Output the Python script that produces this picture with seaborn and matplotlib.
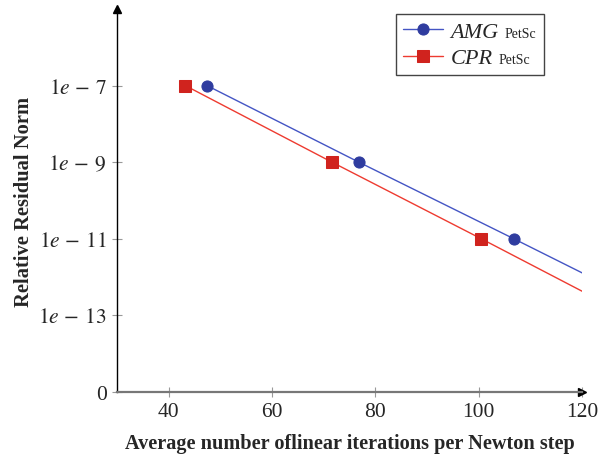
import matplotlib
matplotlib.use("Agg")
import matplotlib.pyplot as plt
from matplotlib.patches import Rectangle
import seaborn as sns
import pandas as pd

# data (last point of each series lies beyond x=120 and is clipped)
amg_iters = [47.4, 76.8, 106.8, 136.5]
cpr_iters = [43.2, 71.6, 100.5, 129.0]
residual_labels = ["0", "1e-13", "1e-11", "1e-9", "1e-7"]
amg_residual = ["1e-7", "1e-9", "1e-11", "1e-13"]
cpr_residual = ["1e-7", "1e-9", "1e-11", "1e-13"]
x_ticks = [40, 60, 80, 100, 120]

# y axis is drawn as equally spaced levels
pos = {lab: i for i, lab in enumerate(residual_labels)}

df = pd.DataFrame({
    "iters": amg_iters + cpr_iters,
    "level": [pos[v] for v in amg_residual] + [pos[v] for v in cpr_residual],
    "solver": ["AMG"] * len(amg_iters) + ["CPR"] * len(cpr_iters),
})

sns.set_style("white")
plt.rcParams["font.family"] = ["Liberation Serif", "DejaVu Serif"]
plt.rcParams["mathtext.fontset"] = "stix"

fig = plt.figure(figsize=(6.02, 4.56), dpi=100)
ax = fig.add_axes([0.1944, 0.1382, 0.7724, 0.8400])

line_col = {"AMG": "#4455c4", "CPR": "#ee3b30"}
face_col = {"AMG": "#2f3c9f", "CPR": "#d0231e"}
marker = {"AMG": "o", "CPR": "s"}

for s in ["AMG", "CPR"]:
    sub = df[df.solver == s]
    sns.lineplot(data=sub, x="iters", y="level", ax=ax, sort=False,
                 color=line_col[s], lw=1.0, marker=marker[s], markersize=8,
                 markerfacecolor=face_col[s], markeredgecolor=face_col[s],
                 label=s)

ax.set_xlim(30, 120)
ax.set_ylim(0, 5)
ax.set_xticks(x_ticks)
ax.set_xticklabels([str(t) for t in x_ticks])
ax.set_yticks(range(len(residual_labels)))
ax.set_yticklabels(["0"] + ["$" + l.replace("e-", r"e\,-\,") + "$" for l in residual_labels[1:]])
ax.tick_params(axis="both", direction="inout", length=7, width=0.8, color="#999999",
               labelsize=15.5, pad=4, left=True, bottom=True)

for side in ["top", "right"]:
    ax.spines[side].set_visible(False)
ax.spines["left"].set_color("black")
ax.spines["left"].set_linewidth(1.0)
ax.spines["bottom"].set_color("#777777")
ax.spines["bottom"].set_linewidth(1.6)
ax.plot(1, 0, marker=">", color="black", markersize=6, transform=ax.transAxes, clip_on=False)
ax.plot(0, 1, marker="^", color="black", markersize=6, transform=ax.transAxes, clip_on=False)

ax.set_xlabel("Average number oflinear iterations per Newton step",
              fontsize=14.6, fontweight="bold", labelpad=8)
ax.set_ylabel("Relative Residual Norm", fontsize=14.8, fontweight="bold", labelpad=3)

leg = ax.legend(loc="upper left", bbox_to_anchor=(0.600, 0.986),
                prop={"size": 16, "style": "italic"},
                frameon=False, borderaxespad=0,
                handlelength=1.8, borderpad=0.3, labelspacing=0.28, handletextpad=0.35)

# small upright "PetSc" after each italic name, then a frame round all of it
fig.canvas.draw()
renderer = fig.canvas.get_renderer()
inv = fig.transFigure.inverted()
right = 0
for t in leg.get_texts():
    bb = t.get_window_extent(renderer)
    x, y = inv.transform((bb.x1 + 6, bb.y0 + 2))
    tag = fig.text(x, y, "PetSc", fontsize=10, va="bottom", ha="left")
    right = max(right, tag.get_window_extent(renderer).x1)
lb = leg.get_window_extent(renderer)
(x0, y0), (x1, y1) = inv.transform([(lb.x0, lb.y0), (right + 8, lb.y1)])
fig.add_artist(Rectangle((x0, y0), x1 - x0, y1 - y0, transform=fig.transFigure,
                         facecolor="none", edgecolor="#444444", lw=1.0))

fig.savefig("out.png", dpi=100)
